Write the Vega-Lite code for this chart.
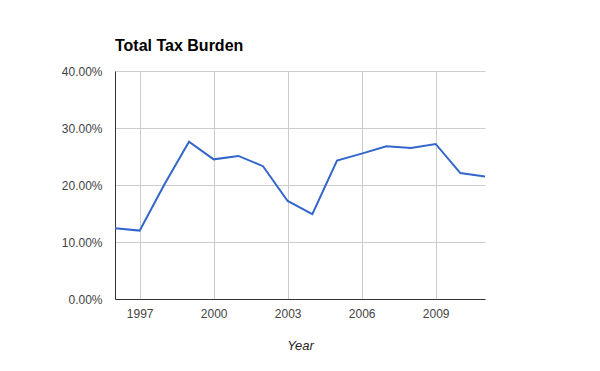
{
  "$schema": "https://vega.github.io/schema/vega-lite/v6.json",
  "width": 370,
  "height": 228,
  "autosize": {"type": "none"},
  "padding": {"left": 115, "top": 71, "right": 115, "bottom": 72},
  "background": "white",
  "title": {
    "text": "Total Tax Burden",
    "anchor": "start",
    "frame": "group",
    "font": "Liberation Sans",
    "fontSize": 16,
    "fontWeight": "bold",
    "color": "#000000",
    "offset": -2,
    "baseline": "alphabetic"
  },
  "data": {
    "values": [
      {"Year": 1996, "Burden": 0.124},
      {"Year": 1997, "Burden": 0.120},
      {"Year": 1998, "Burden": 0.201},
      {"Year": 1999, "Burden": 0.276},
      {"Year": 2000, "Burden": 0.245},
      {"Year": 2001, "Burden": 0.251},
      {"Year": 2002, "Burden": 0.233},
      {"Year": 2003, "Burden": 0.172},
      {"Year": 2004, "Burden": 0.149},
      {"Year": 2005, "Burden": 0.243},
      {"Year": 2006, "Burden": 0.255},
      {"Year": 2007, "Burden": 0.268},
      {"Year": 2008, "Burden": 0.265},
      {"Year": 2009, "Burden": 0.272},
      {"Year": 2010, "Burden": 0.221},
      {"Year": 2011, "Burden": 0.215}
    ]
  },
  "config": {
    "view": {"stroke": null},
    "axis": {
      "labelFont": "Liberation Sans",
      "titleFont": "Liberation Sans",
      "labelFontSize": 12,
      "labelColor": "#444444",
      "gridColor": "#cccccc",
      "gridOpacity": 1,
      "gridWidth": 1,
      "domainColor": "#333333",
      "domainWidth": 1,
      "ticks": false
    }
  },
  "mark": {"type": "line", "color": "#3366cc", "strokeWidth": 2},
  "encoding": {
    "x": {
      "field": "Year",
      "type": "quantitative",
      "scale": {"domain": [1996, 2011], "nice": false, "zero": false},
      "axis": {
        "values": [1997, 2000, 2003, 2006, 2009],
        "format": "d",
        "labelPadding": 9,
        "title": "Year",
        "titleFontStyle": "italic",
        "titleFontWeight": "normal",
        "titleFontSize": 13,
        "titleColor": "#222222",
        "titlePadding": 20,
        "labelFlush": false
      }
    },
    "y": {
      "field": "Burden",
      "type": "quantitative",
      "scale": {"domain": [0, 0.4], "nice": false},
      "axis": {
        "values": [0, 0.1, 0.2, 0.3, 0.4],
        "format": ".2%",
        "labelPadding": 13,
        "title": null,
        "labelFlush": false
      }
    }
  }
}
